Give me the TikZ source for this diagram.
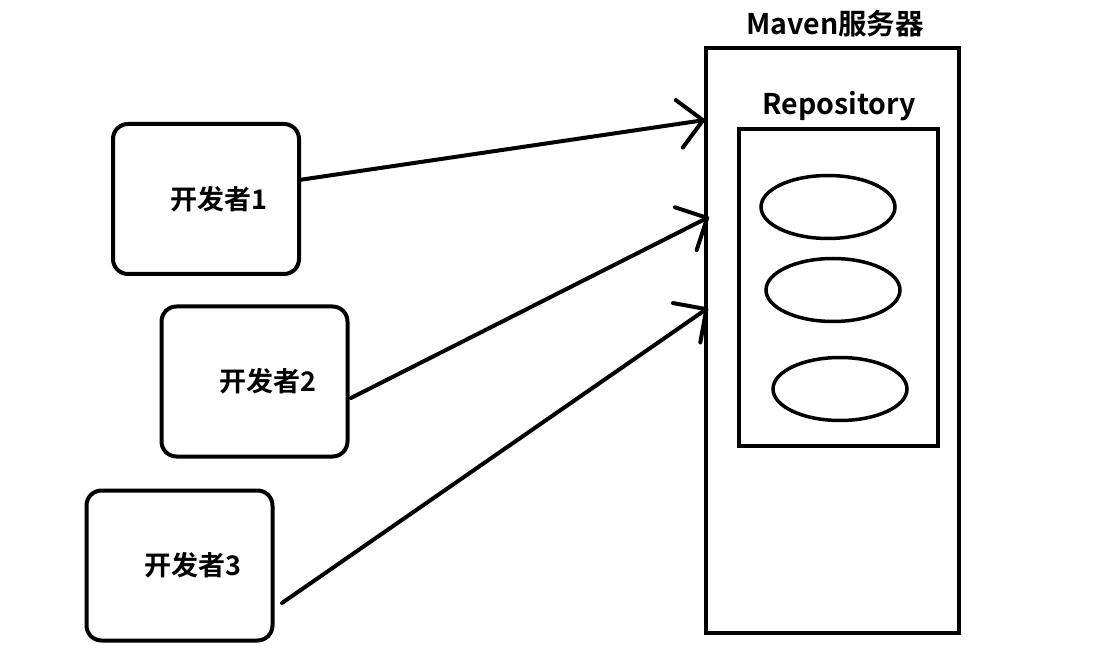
\documentclass[tikz,border=0pt]{standalone}
\usepackage{fontspec}
\setmainfont{Noto Sans CJK SC}[BoldFont={* Bold}]
\usetikzlibrary{arrows.meta,shapes.geometric}
\begin{document}
\begin{tikzpicture}[x=1pt,y=-1pt,
  dev/.style={draw,line width=4pt,rounded corners=15pt,minimum width=186pt,minimum height=150pt},
  lbl/.style={font=\bfseries\fontsize{27}{31}\selectfont,inner sep=0pt},
  big/.style={font=\bfseries\fontsize{28.5}{33}\selectfont,inner sep=0pt},
  frame/.style={draw,line width=4pt},
  ell/.style={draw,ellipse,line width=3.5pt,minimum width=134pt,minimum height=63pt,inner sep=0pt},
  link/.style={line width=4pt,line cap=round,-{Straight Barb[length=24pt,width=48pt,line width=4pt,round]}}]
\useasboundingbox (0,0) rectangle (1114,652);
% developer boxes
\node[dev] (d1) at (206,199) {};
\node[lbl] (t1) at (219,199) {开发者1};
\node[dev] (d2) at (254.5,381.5) {};
\node[lbl] (t2) at (268,381) {开发者2};
\node[dev] (d3) at (179.5,565.5) {};
\node[lbl] (t3) at (193,565) {开发者3};
% Maven server
\node[frame,minimum width=253pt,minimum height=585pt,inner sep=0pt] (mv) at (832.5,340.5) {};
\node[big] (mvt) at (835,24) {Maven服务器};
\node[big] (rpt) at (839,106) {Repository};
\node[frame,minimum width=199pt,minimum height=317pt,inner sep=0pt] (rp) at (838.5,287.5) {};
\node[ell] (e1) at (828,207) {};
\node[ell] (e2) at (833,290) {};
\node[ell] (e3) at (840,389) {};
% connectors
\coordinate (a1s) at (299,180);
\coordinate (a1e) at (705,120);
\coordinate (a2s) at (351,398);
\coordinate (a2e) at (709,217);
\coordinate (a3s) at (282,603);
\coordinate (a3e) at (708,308);
\draw[link] (a1s) -- (a1e);
\draw[link] (a2s) -- (a2e);
\draw[link] (a3s) -- (a3e);
\end{tikzpicture}
\end{document}
